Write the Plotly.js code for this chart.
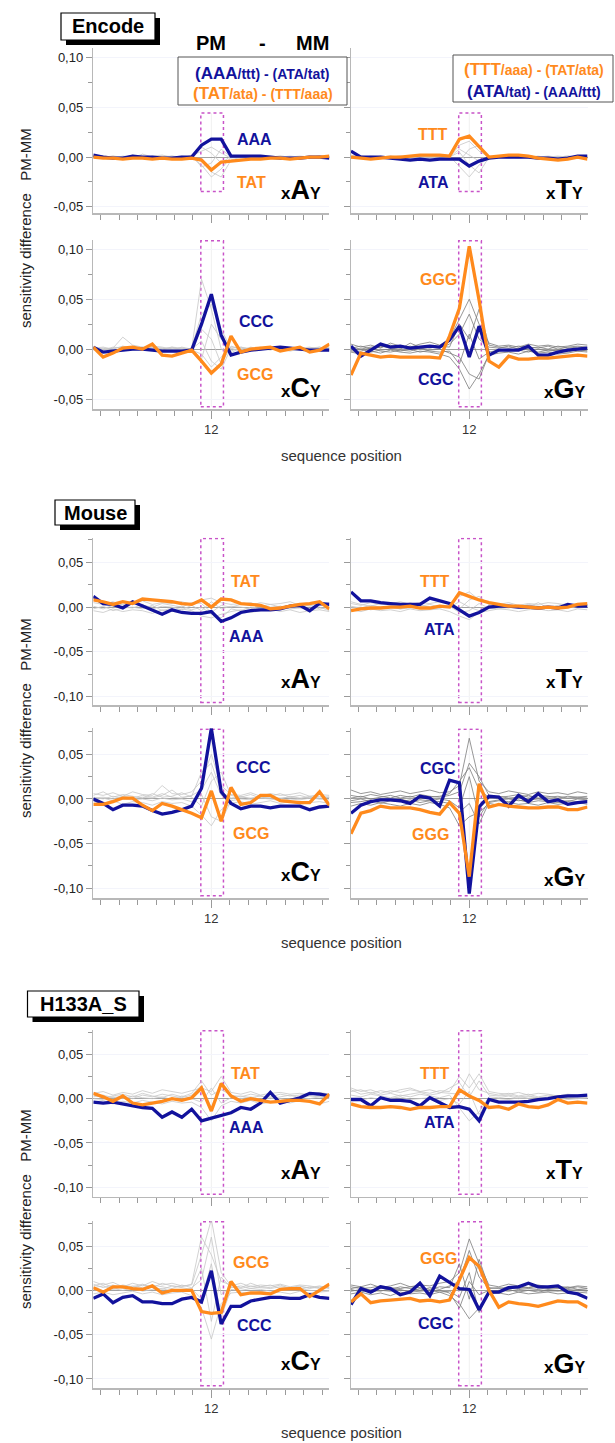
<!DOCTYPE html>
<html><head><meta charset="utf-8">
<script src="https://cdn.plot.ly/plotly-3.0.1.min.js"></script>
<style>html,body{margin:0;padding:0;background:#fff}</style>
</head><body><div id="chart" style="width:615px;height:1443px"></div>
<script>
// ---------------- DATA ----------------
const positions = [0,1,2,3,4,5,6,7,8,9,10,11,12,13,14,15,16,17,18,19,20,21,22,23,24];
const xTickValues = [12];
const xTickLabels = ['12'];
const yTickValues = [-0.10,-0.05,0,0.05,0.10];
const yTickLabels = ['-0,10','-0,05','0,00','0,05','0,10'];
const sections = ['Encode','Mouse','H133A_S'];

// Encode
const encA_blue   = [0.002,0.000,-0.001,-0.001,0.001,0.000,0.000,-0.001,-0.001,0.000,0.000,0.012,0.018,0.018,0.001,0.001,0.001,0.001,0.000,-0.001,-0.001,-0.001,0.000,0.000,-0.001];
const encA_orange = [0.000,-0.001,-0.001,-0.002,-0.001,-0.001,-0.002,-0.001,-0.002,-0.002,-0.001,-0.003,-0.013,-0.005,-0.004,-0.003,-0.002,-0.002,-0.001,-0.001,-0.002,-0.001,0.000,0.000,0.001];
const encA_gray = [
 [0.001,0.000,-0.001,0.001,0.000,-0.001,0.001,0.002,0.000,-0.001,0.000,-0.008,-0.020,-0.012,0.000,0.001,0.000,-0.001,0.000,0.001,0.000,0.000,-0.001,0.000,0.001],
 [-0.001,0.001,0.000,-0.001,0.002,0.000,-0.001,0.000,0.001,0.000,0.001,0.006,0.010,0.004,-0.001,0.000,0.001,0.000,-0.001,0.000,0.001,0.000,0.000,0.001,0.000],
 [0.000,-0.001,0.001,0.000,-0.001,0.003,0.000,-0.001,0.000,0.001,-0.001,-0.004,-0.015,-0.020,-0.003,0.000,-0.001,0.001,0.000,-0.001,0.000,0.001,0.000,-0.001,0.000],
 [0.002,0.001,0.000,0.000,0.001,-0.001,0.000,0.001,-0.001,0.000,0.000,0.010,0.004,-0.006,0.001,-0.001,0.000,0.000,0.001,0.000,-0.001,0.000,0.001,0.000,-0.001],
 [0.000,0.000,0.001,-0.001,0.000,0.001,-0.001,0.000,0.001,-0.001,0.002,-0.010,-0.006,0.008,0.000,0.001,-0.001,0.000,0.000,0.001,0.000,-0.001,0.000,0.001,0.000]];
const encT_blue   = [0.006,0.000,0.000,0.000,-0.001,-0.002,-0.003,-0.002,-0.003,-0.002,-0.002,-0.002,-0.009,-0.004,-0.001,0.000,0.000,0.000,0.000,-0.001,-0.001,-0.002,-0.001,0.001,0.001];
const encT_orange = [0.000,-0.001,-0.002,-0.001,0.000,0.000,0.001,0.002,0.002,0.002,0.001,0.018,0.021,0.010,0.000,0.001,0.002,0.002,0.001,-0.001,-0.002,-0.003,-0.002,0.000,-0.002];
const encT_gray = [
 [0.002,0.000,-0.001,0.001,0.000,0.001,-0.001,0.000,0.001,0.000,0.000,0.012,0.016,0.006,0.000,0.001,0.000,-0.001,0.000,0.000,0.001,0.000,-0.001,0.000,0.001],
 [-0.001,0.001,0.000,0.000,-0.001,0.000,0.001,0.001,0.000,-0.001,0.001,-0.010,-0.020,-0.008,0.001,0.000,-0.001,0.000,0.001,0.000,0.000,-0.001,0.000,0.001,0.000],
 [0.000,-0.001,0.001,0.000,0.001,-0.001,0.000,0.000,-0.001,0.001,0.000,0.005,-0.008,-0.016,0.000,-0.001,0.001,0.000,0.000,0.001,-0.001,0.000,0.001,0.000,-0.001],
 [0.001,0.000,0.000,-0.001,0.000,0.001,0.000,-0.001,0.001,0.000,-0.001,-0.004,0.008,0.012,-0.001,0.000,0.000,0.001,-0.001,0.000,0.000,0.001,0.000,-0.001,0.000],
 [0.000,0.001,-0.001,0.000,0.001,0.000,-0.001,0.000,0.000,0.001,0.000,0.008,0.002,-0.004,0.000,0.001,0.000,0.000,0.001,-0.001,0.000,0.000,0.001,0.000,0.000]];
const encC_blue   = [0.002,-0.003,-0.002,-0.001,0.000,0.000,-0.001,-0.002,-0.002,-0.002,-0.001,0.025,0.055,0.014,-0.006,-0.003,-0.001,0.000,0.001,0.002,0.001,0.000,-0.001,-0.001,-0.001];
const encC_orange = [0.002,-0.008,-0.004,0.001,0.002,0.000,0.005,-0.006,-0.007,-0.004,-0.001,-0.012,-0.024,-0.015,0.013,-0.003,0.000,0.001,0.002,-0.002,0.000,0.002,-0.003,-0.001,0.005];
const encC_gray = [
 [0.002,-0.001,0.001,0.012,0.004,0.002,0.001,0.000,0.002,0.001,0.000,0.070,0.040,0.000,-0.004,0.002,0.000,0.001,-0.001,0.002,0.000,0.001,0.002,0.000,0.001],
 [0.000,0.001,-0.002,0.000,0.001,-0.001,0.003,0.002,0.000,-0.001,0.001,0.035,0.045,0.020,0.000,-0.001,0.002,0.000,0.001,0.000,-0.002,0.000,0.001,0.002,0.000],
 [-0.001,0.000,0.001,0.002,-0.001,0.000,0.001,-0.002,0.001,0.000,-0.001,-0.005,-0.018,-0.008,0.002,0.001,-0.001,0.001,0.000,-0.001,0.001,0.002,0.000,-0.001,0.001],
 [0.001,0.002,0.000,-0.001,0.002,0.001,0.000,0.001,-0.001,0.002,0.000,0.020,0.010,-0.015,0.003,0.000,0.001,-0.001,0.002,0.001,0.000,-0.001,0.001,0.000,0.002],
 [0.000,-0.001,0.002,0.001,0.000,0.002,-0.001,0.000,0.002,-0.001,0.001,-0.010,0.025,0.010,-0.002,0.002,0.000,0.002,0.000,0.001,0.002,0.000,-0.001,0.001,0.000],
 [0.001,0.000,0.000,0.003,0.001,0.000,0.002,0.001,0.000,0.001,0.000,0.008,-0.012,-0.020,0.001,-0.002,0.001,0.000,0.001,0.000,0.001,0.001,0.000,0.002,-0.001]];
const encG_blue   = [0.003,-0.007,-0.001,0.005,0.002,0.003,0.001,0.002,0.003,0.002,0.009,0.023,-0.008,0.023,-0.006,-0.001,-0.001,-0.001,0.003,-0.006,-0.006,-0.003,-0.001,0.000,0.001];
const encG_orange = [-0.026,-0.004,-0.006,-0.008,-0.007,-0.008,-0.008,-0.008,-0.008,-0.009,0.013,0.041,0.103,0.049,-0.012,-0.018,-0.007,-0.010,-0.010,-0.009,-0.009,-0.008,-0.007,-0.006,-0.007];
const encG_gray = [
 [0.005,0.002,0.004,0.001,0.006,0.003,0.002,0.005,0.007,0.004,0.010,0.030,0.050,0.025,0.006,0.003,0.004,0.002,0.005,0.003,0.004,0.002,0.003,0.005,0.004],
 [-0.003,-0.005,-0.002,-0.004,-0.001,-0.003,-0.004,-0.002,-0.003,-0.005,-0.008,-0.020,-0.040,-0.025,-0.006,-0.004,-0.003,-0.005,-0.002,-0.004,-0.003,-0.005,-0.004,-0.002,-0.003],
 [0.001,0.003,0.000,0.002,0.004,0.001,0.003,0.000,0.002,0.001,0.005,0.015,0.035,0.010,0.002,0.001,0.003,0.000,0.001,0.002,0.000,0.003,0.001,0.002,0.001],
 [-0.001,0.000,-0.003,-0.001,0.000,-0.002,0.000,-0.003,-0.001,0.000,-0.004,-0.008,-0.025,-0.030,-0.005,-0.002,0.000,-0.001,-0.003,0.000,-0.002,-0.001,0.000,-0.002,-0.001],
 [0.002,0.000,0.002,0.003,0.001,0.000,0.006,0.002,0.001,0.003,0.002,0.025,0.010,0.040,0.004,0.002,0.001,0.003,0.002,0.001,0.003,0.000,0.002,0.003,0.002],
 [-0.002,-0.002,0.001,-0.002,-0.003,-0.001,-0.002,0.001,-0.002,-0.003,-0.002,-0.015,0.015,-0.010,-0.003,-0.001,-0.002,0.001,-0.001,-0.003,-0.001,-0.002,-0.003,0.000,-0.002]];

// Mouse
const mouA_blue   = [0.012,0.004,0.003,-0.001,0.006,0.001,-0.003,-0.008,-0.003,-0.006,-0.007,-0.007,-0.005,-0.016,-0.012,-0.006,-0.004,-0.003,-0.003,-0.002,0.001,0.002,-0.004,0.004,0.003];
const mouA_orange = [0.008,0.006,0.003,0.006,0.004,0.009,0.008,0.007,0.006,0.004,0.003,0.008,0.000,0.009,0.008,0.004,0.003,0.002,-0.002,-0.001,0.001,0.003,0.004,0.006,-0.002];
const mouA_gray = [
 [0.005,0.003,0.006,0.002,0.004,0.007,0.003,0.005,0.004,0.006,0.003,0.008,0.010,0.005,0.003,0.004,0.002,0.005,0.003,0.004,0.006,0.002,0.004,0.003,0.005],
 [-0.004,-0.006,-0.002,-0.005,-0.003,-0.004,-0.007,-0.003,-0.005,-0.002,-0.004,-0.010,-0.012,-0.008,-0.005,-0.003,-0.006,-0.004,-0.002,-0.005,-0.003,-0.006,-0.004,-0.003,-0.005],
 [0.001,-0.002,0.002,0.000,-0.001,0.003,-0.002,0.001,0.000,-0.003,0.002,-0.004,0.006,-0.002,0.001,0.000,-0.002,0.002,0.000,0.001,-0.001,0.000,0.002,-0.002,0.000],
 [0.008,0.004,0.001,0.003,0.006,0.002,0.000,0.004,0.002,0.000,0.005,0.004,-0.006,0.002,0.000,0.003,0.005,0.001,0.003,0.000,0.002,0.004,0.001,0.005,0.002],
 [-0.002,0.001,-0.004,-0.001,0.000,-0.002,0.002,-0.004,-0.001,0.001,-0.003,0.000,-0.008,-0.012,-0.002,-0.004,0.000,-0.002,-0.003,0.001,-0.002,-0.001,-0.003,0.000,-0.004]];
const mouT_blue   = [0.017,0.007,0.007,0.005,0.004,0.003,0.003,0.003,0.010,0.007,0.004,-0.003,-0.010,-0.006,0.000,0.001,0.001,0.000,0.000,-0.001,0.000,-0.001,0.003,0.001,0.001];
const mouT_orange = [-0.004,-0.002,-0.001,-0.001,0.000,0.000,0.001,-0.001,-0.001,0.001,0.000,0.016,0.012,0.008,0.005,0.003,0.001,0.001,0.000,-0.001,0.000,-0.001,0.000,0.003,0.004];
const mouT_gray = [
 [0.004,0.002,0.005,0.003,0.004,0.006,0.003,0.005,0.004,0.006,0.004,0.012,0.017,0.008,0.004,0.003,0.005,0.002,0.004,0.003,0.005,0.004,0.002,0.004,0.003],
 [-0.003,-0.005,-0.002,-0.004,-0.003,-0.005,-0.002,-0.004,-0.003,-0.002,-0.005,-0.010,-0.014,-0.006,-0.004,-0.002,-0.003,-0.005,-0.003,-0.002,-0.004,-0.003,-0.005,-0.002,-0.003],
 [0.001,-0.001,0.002,0.000,0.001,-0.002,0.001,0.002,0.000,0.001,0.000,0.006,0.000,-0.004,0.002,0.000,-0.001,0.002,0.000,0.005,-0.001,0.001,0.000,0.002,0.001],
 [0.006,0.003,0.001,0.004,0.002,0.000,0.005,0.001,0.003,0.000,0.002,-0.002,0.008,0.012,0.003,0.001,0.002,0.000,0.003,0.001,0.000,0.002,0.004,0.001,0.002],
 [-0.001,0.000,-0.003,-0.001,0.000,-0.002,-0.001,0.000,-0.002,-0.001,0.001,-0.006,-0.004,0.004,-0.001,-0.002,0.000,-0.001,-0.002,0.000,-0.001,-0.002,0.000,-0.001,0.000]];
const mouC_blue   = [0.000,-0.005,-0.012,-0.007,-0.007,-0.008,-0.013,-0.017,-0.015,-0.012,-0.008,0.012,0.079,0.008,-0.005,-0.011,-0.008,-0.008,-0.010,-0.008,-0.008,-0.008,-0.012,-0.009,-0.008];
const mouC_orange = [-0.006,-0.006,-0.003,0.001,0.001,-0.007,-0.013,-0.005,-0.008,-0.012,-0.016,-0.021,0.009,-0.025,0.013,-0.006,-0.004,0.004,0.004,-0.002,-0.003,-0.004,-0.004,0.008,-0.007];
const mouC_gray = [
 [0.006,0.004,0.007,0.003,0.008,0.005,0.004,0.015,0.006,0.005,0.008,0.020,0.050,0.015,0.005,0.004,0.007,0.003,0.006,0.004,0.005,0.007,0.003,0.005,0.004],
 [-0.003,-0.005,-0.002,-0.006,-0.003,-0.004,-0.007,-0.003,-0.005,-0.004,-0.008,-0.018,-0.030,-0.012,-0.005,-0.003,-0.006,-0.004,-0.002,-0.005,-0.003,-0.006,-0.004,-0.003,-0.005],
 [0.002,0.000,0.003,0.001,0.000,0.002,0.001,0.004,0.010,0.002,0.003,0.030,0.040,0.008,0.001,0.003,0.000,0.002,0.001,0.000,0.003,0.001,0.002,0.000,0.002],
 [0.004,0.008,0.002,0.005,0.003,0.001,0.006,0.002,0.003,0.007,0.002,-0.008,0.020,0.030,0.004,0.002,0.005,0.001,0.003,0.006,0.002,0.004,0.001,0.003,0.002],
 [-0.001,0.001,-0.002,0.000,-0.001,0.000,-0.002,0.001,-0.001,0.000,-0.003,0.005,-0.020,-0.025,-0.002,0.000,-0.001,0.001,0.000,-0.002,0.000,-0.001,0.001,0.000,-0.001],
 [0.001,0.002,0.000,0.003,0.001,0.004,0.002,0.006,0.002,0.001,0.004,0.010,0.030,0.004,0.000,0.002,0.001,0.003,0.002,0.001,0.002,0.000,0.003,0.001,0.002]];
const mouG_blue   = [-0.016,-0.007,-0.003,-0.001,-0.001,-0.002,-0.005,0.003,0.001,-0.008,0.021,0.018,-0.106,-0.009,0.003,0.002,-0.008,0.004,-0.003,0.006,-0.003,-0.001,-0.006,-0.004,-0.003];
const mouG_orange = [-0.039,-0.016,-0.013,-0.008,-0.010,-0.010,-0.010,-0.012,-0.015,-0.017,-0.004,-0.016,-0.087,0.017,-0.009,-0.006,-0.008,-0.009,-0.010,-0.010,-0.009,-0.009,-0.012,-0.012,-0.009];
const mouG_gray = [
 [0.010,0.006,0.008,0.005,0.007,0.009,0.006,0.008,0.010,0.007,0.008,0.015,0.068,0.020,0.008,0.006,0.009,0.007,0.005,0.008,0.006,0.007,0.005,0.008,0.006],
 [-0.008,-0.005,-0.007,-0.004,-0.006,-0.008,-0.005,-0.007,-0.004,-0.006,-0.010,-0.030,-0.020,-0.015,-0.005,-0.007,-0.004,-0.006,-0.005,-0.007,-0.004,-0.006,-0.005,-0.004,-0.006],
 [0.004,0.002,0.005,0.003,0.001,0.004,0.002,0.005,0.003,0.002,0.004,0.008,0.040,0.025,0.004,0.002,0.003,0.005,0.002,0.004,0.003,0.001,0.003,0.002,0.003],
 [-0.002,0.000,-0.003,-0.001,-0.002,0.000,-0.003,-0.001,-0.002,0.000,-0.002,-0.010,0.025,-0.020,-0.003,-0.001,0.000,-0.002,-0.001,0.000,-0.002,-0.001,-0.003,0.000,-0.001],
 [0.001,0.003,0.000,0.002,0.004,0.001,0.003,0.000,0.002,0.003,0.006,0.020,0.035,0.010,0.002,0.003,0.001,0.002,0.004,0.001,0.002,0.003,0.001,0.002,0.001],
 [-0.004,-0.003,-0.001,-0.005,-0.002,-0.003,-0.001,-0.004,-0.002,-0.003,-0.005,-0.015,-0.005,-0.028,-0.004,-0.002,-0.003,-0.001,-0.004,-0.002,-0.003,-0.004,-0.002,-0.003,-0.002]];

// H133A_S
const h1A_blue   = [-0.004,-0.005,-0.004,-0.006,-0.008,-0.010,-0.011,-0.021,-0.015,-0.021,-0.012,-0.025,-0.022,-0.019,-0.016,-0.010,-0.012,-0.005,0.007,-0.005,-0.002,0.001,0.006,0.005,0.003];
const h1A_orange = [0.006,0.002,-0.003,0.003,-0.005,-0.007,-0.005,-0.003,0.000,-0.002,0.001,0.012,-0.014,0.017,0.003,-0.003,0.000,-0.002,-0.004,-0.003,-0.002,-0.002,-0.003,-0.006,0.005];
const h1A_gray = [
 [0.006,0.008,0.004,0.007,0.005,0.009,0.006,0.010,0.008,0.006,0.009,0.012,0.008,0.025,0.007,0.005,0.008,0.004,0.006,0.007,0.005,0.006,0.004,0.007,0.005],
 [-0.004,-0.002,-0.006,-0.003,-0.005,-0.002,-0.004,-0.006,-0.003,-0.005,-0.004,-0.010,-0.025,-0.008,-0.003,-0.005,-0.002,-0.006,-0.004,-0.003,-0.005,-0.002,-0.004,-0.006,-0.003],
 [0.002,0.004,0.001,0.003,0.000,0.004,0.002,0.005,0.003,0.001,0.004,0.015,-0.010,0.018,0.002,0.003,0.001,0.003,0.000,0.002,0.004,0.001,0.003,0.002,0.001],
 [0.000,-0.001,0.002,0.000,0.003,0.001,0.000,0.002,-0.001,0.003,0.000,-0.004,0.012,-0.005,0.001,0.000,0.002,-0.001,0.001,0.000,-0.002,0.001,0.000,0.002,0.000],
 [0.004,0.001,0.003,0.005,0.002,0.006,0.003,0.001,0.005,0.002,0.006,0.020,0.004,0.010,0.004,0.002,0.005,0.003,0.002,0.005,0.003,0.004,0.006,0.003,0.004]];
const h1T_blue   = [-0.001,-0.001,-0.008,0.001,-0.002,-0.002,-0.003,-0.008,0.001,-0.004,-0.010,-0.009,-0.012,-0.025,-0.001,-0.004,-0.004,-0.004,-0.003,-0.001,0.000,0.002,0.003,0.003,0.004];
const h1T_orange = [-0.006,-0.009,-0.010,-0.010,-0.009,-0.010,-0.012,-0.010,-0.010,-0.009,-0.009,0.010,0.003,-0.002,-0.010,-0.009,-0.012,-0.006,-0.009,-0.010,-0.007,-0.001,-0.005,-0.004,-0.005];
const h1T_gray = [
 [0.012,0.008,0.010,0.006,0.009,0.007,0.010,0.008,0.006,0.009,0.008,0.025,0.012,0.028,0.008,0.006,0.005,0.007,0.004,0.006,0.005,0.003,0.005,0.004,0.003],
 [0.004,0.002,0.005,0.003,0.001,0.004,0.002,0.005,0.003,0.001,0.004,-0.010,-0.025,-0.015,0.002,0.001,0.003,0.000,0.002,0.001,0.000,0.002,0.001,0.000,0.001],
 [0.008,0.010,0.006,0.009,0.007,0.010,0.012,0.008,0.010,0.007,0.006,0.005,0.028,0.010,0.006,0.004,0.006,0.003,0.005,0.002,0.004,0.003,0.002,0.004,0.002],
 [0.000,-0.002,0.001,-0.001,0.000,0.002,-0.001,0.000,0.001,-0.002,0.000,-0.006,0.008,-0.018,-0.002,0.000,-0.001,0.001,0.000,-0.001,0.000,0.001,-0.001,0.000,0.001],
 [0.010,0.005,0.007,0.004,0.006,0.003,0.005,0.007,0.004,0.006,0.012,0.018,0.002,0.020,0.004,0.003,0.004,0.002,0.003,0.001,0.002,0.003,0.001,0.002,0.001]];
const h1C_blue   = [-0.009,-0.004,-0.014,-0.008,-0.006,-0.013,-0.013,-0.015,-0.015,-0.010,-0.008,-0.013,0.022,-0.038,-0.018,-0.018,-0.012,-0.010,-0.008,-0.008,-0.009,-0.009,-0.005,-0.008,-0.009];
const h1C_orange = [0.003,-0.002,0.004,0.004,0.002,0.001,0.005,-0.003,0.000,0.000,0.000,-0.024,-0.026,-0.025,0.010,-0.005,-0.003,-0.003,-0.004,0.001,0.002,0.002,-0.007,0.000,0.007];
const h1C_gray = [
 [0.010,0.006,0.009,0.004,0.008,0.005,0.010,0.006,0.008,0.005,0.006,0.040,0.080,0.020,0.005,0.008,0.004,0.006,0.005,0.007,0.004,0.006,0.005,0.003,0.005],
 [-0.004,-0.002,-0.005,-0.003,-0.001,-0.004,-0.002,-0.005,-0.003,-0.002,-0.006,-0.020,-0.055,-0.015,-0.003,-0.002,-0.004,-0.001,-0.003,-0.002,-0.004,-0.001,-0.003,-0.002,-0.001],
 [0.005,0.008,0.003,0.006,0.004,0.007,0.003,0.008,0.005,0.004,0.007,0.060,0.040,0.010,0.006,0.003,0.008,0.004,0.003,0.006,0.002,0.004,0.003,0.005,0.002],
 [0.001,-0.001,0.002,0.000,0.003,-0.001,0.001,0.002,-0.001,0.000,0.002,-0.010,0.030,-0.030,0.001,0.000,0.002,0.001,-0.001,0.000,0.001,0.002,0.000,-0.001,0.000],
 [0.003,0.005,0.001,0.004,0.002,0.006,0.004,0.001,0.005,0.003,0.001,0.025,-0.035,0.015,0.003,0.005,0.002,0.004,0.006,0.002,0.003,0.001,0.004,0.002,0.003],
 [0.007,0.003,0.006,0.002,0.005,0.003,0.006,0.004,0.002,0.006,0.003,0.012,0.060,-0.005,0.004,0.002,0.005,0.003,0.002,0.004,0.003,0.005,0.002,0.004,0.003]];
const h1G_blue   = [-0.016,0.002,-0.002,0.004,0.002,-0.005,-0.002,0.008,-0.006,0.016,0.009,0.002,0.001,-0.022,-0.002,-0.002,0.003,0.004,0.008,0.004,0.004,0.005,-0.002,-0.004,-0.009];
const h1G_orange = [-0.013,-0.004,-0.014,-0.012,-0.011,-0.010,-0.009,-0.012,-0.011,-0.013,-0.011,0.012,0.037,0.027,0.000,-0.019,-0.013,-0.015,-0.016,-0.018,-0.015,-0.012,-0.013,-0.013,-0.019];
const h1G_gray = [
 [0.006,0.004,0.007,0.003,0.005,0.008,0.004,0.006,0.005,0.008,0.010,0.020,0.058,0.030,0.006,0.004,0.007,0.005,0.003,0.006,0.004,0.005,0.003,0.005,0.004],
 [-0.004,-0.002,-0.005,-0.003,-0.006,-0.002,-0.004,-0.003,-0.005,-0.002,-0.006,-0.015,-0.032,-0.020,-0.004,-0.003,-0.005,-0.002,-0.004,-0.003,-0.002,-0.004,-0.003,-0.002,-0.003],
 [0.002,0.004,0.000,0.003,0.001,0.004,0.002,0.000,0.003,0.001,0.005,0.010,0.045,0.015,0.002,0.003,0.001,0.004,0.002,0.003,0.001,0.002,0.004,0.001,0.002],
 [-0.001,0.001,-0.002,0.000,-0.001,0.001,-0.002,-0.001,0.000,-0.002,-0.001,-0.008,0.020,-0.025,-0.002,0.000,-0.001,0.001,0.000,-0.002,0.000,-0.001,0.001,0.000,-0.001],
 [0.004,0.002,0.003,0.005,0.003,0.002,0.004,0.003,0.001,0.004,0.003,0.030,-0.010,0.035,0.003,0.002,0.004,0.002,0.003,0.005,0.002,0.003,0.002,0.004,0.002],
 [0.001,-0.002,0.001,-0.001,0.002,0.000,-0.001,0.002,-0.001,0.000,-0.003,-0.020,0.010,-0.005,0.000,-0.001,0.001,-0.002,0.000,0.001,-0.001,0.000,-0.002,0.001,0.000]];

// ---------------- LAYOUT ----------------
const W = 615, H = 1443;
const BLUE = '#12129c', ORANGE = '#ff8a1c';
const FONT = 'Liberation Sans, Arial, sans-serif';
const NARROW = 'Liberation Sans Narrow, Arial Narrow, Liberation Sans, Arial, sans-serif';
const px = x => x / W, py = y => 1 - y / H;

const colPx = [[93.3, 329.4], [351, 587.5]];
const rowPx = [[48.3, 213.3], [240, 409.3], [537.7, 705], [728.3, 898.3], [1030, 1196.7], [1221, 1388.3]];
const rowRange = [[-0.0566, 0.1095], [-0.0603, 0.1093], [-0.1093, 0.0775], [-0.1112, 0.0791], [-0.1106, 0.0774], [-0.1105, 0.0782]];

const panels = [
  {blue: encA_blue, orange: encA_orange, gray: encA_gray, dark: false, big: 'A', bl: 'AAA', ol: 'TAT'},
  {blue: encT_blue, orange: encT_orange, gray: encT_gray, dark: false, big: 'T', bl: 'ATA', ol: 'TTT'},
  {blue: encC_blue, orange: encC_orange, gray: encC_gray, dark: false, big: 'C', bl: 'CCC', ol: 'GCG'},
  {blue: encG_blue, orange: encG_orange, gray: encG_gray, dark: true,  big: 'G', bl: 'CGC', ol: 'GGG'},
  {blue: mouA_blue, orange: mouA_orange, gray: mouA_gray, dark: false, big: 'A', bl: 'AAA', ol: 'TAT'},
  {blue: mouT_blue, orange: mouT_orange, gray: mouT_gray, dark: false, big: 'T', bl: 'ATA', ol: 'TTT'},
  {blue: mouC_blue, orange: mouC_orange, gray: mouC_gray, dark: false, big: 'C', bl: 'CCC', ol: 'GCG'},
  {blue: mouG_blue, orange: mouG_orange, gray: mouG_gray, dark: true,  big: 'G', bl: 'CGC', ol: 'GGG'},
  {blue: h1A_blue, orange: h1A_orange, gray: h1A_gray, dark: false, big: 'A', bl: 'AAA', ol: 'TAT'},
  {blue: h1T_blue, orange: h1T_orange, gray: h1T_gray, dark: false, big: 'T', bl: 'ATA', ol: 'TTT'},
  {blue: h1C_blue, orange: h1C_orange, gray: h1C_gray, dark: false, big: 'C', bl: 'CCC', ol: 'GCG'},
  {blue: h1G_blue, orange: h1G_orange, gray: h1G_gray, dark: true,  big: 'G', bl: 'CGC', ol: 'GGG'}
];

const labelPos = [
  {b: [235, 139], o: [235, 182], g: [323, 190]},
  {b: [416, 183], o: [416, 135], g: [585, 190]},
  {b: [237, 322], o: [235, 375], g: [323, 388]},
  {b: [416, 380], o: [418, 280], g: [587, 389]},
  {b: [227, 636], o: [229, 581], g: [323, 679]},
  {b: [422, 629], o: [418, 581], g: [585, 679]},
  {b: [234, 767], o: [231, 833], g: [323, 872]},
  {b: [418, 768], o: [410, 834], g: [587, 877]},
  {b: [227, 1127], o: [229, 1073], g: [323, 1170]},
  {b: [422, 1122], o: [418, 1073], g: [585, 1170]},
  {b: [235, 1325], o: [231, 1262], g: [323, 1361]},
  {b: [416, 1323], o: [418, 1258], g: [587, 1364]}
];

const step = 1.875;
const xMinor = [];
for (let k = -6; k <= 6; k++) if (k !== 0) xMinor.push(12 + k * step);
const yMinor = [-0.075, -0.025, 0.025, 0.075];

const traces = [];
const layout = {
  width: W, height: H, margin: {l: 0, r: 0, t: 0, b: 0},
  paper_bgcolor: '#fff', plot_bgcolor: 'rgba(0,0,0,0)',
  showlegend: false, font: {family: FONT, color: '#222'},
  shapes: [], annotations: []
};

panels.forEach((p, i) => {
  const r = Math.floor(i / 2), c = i % 2;
  const n = i + 1;
  const xid = n === 1 ? 'x' : 'x' + n, yid = n === 1 ? 'y' : 'y' + n;
  const xk = n === 1 ? 'xaxis' : 'xaxis' + n, yk = n === 1 ? 'yaxis' : 'yaxis' + n;
  layout[xk] = {
    domain: [px(colPx[c][0]), px(colPx[c][1])], anchor: yid, range: [0, 24],
    showline: true, linecolor: '#b8b8b8', linewidth: 1.5,
    ticks: 'outside', ticklen: 8, tickwidth: 1, tickcolor: '#9a9a9a',
    tickmode: 'array', tickvals: xTickValues, ticktext: xTickLabels,
    showticklabels: r % 2 === 1, tickfont: {size: 13, color: '#333', family: FONT},
    showgrid: false, zeroline: false, fixedrange: true,
    minor: {tickmode: 'array', tickvals: xMinor, ticks: 'outside', ticklen: 5, tickwidth: 1, tickcolor: '#9a9a9a', showgrid: false}
  };
  layout[yk] = {
    domain: [py(rowPx[r][1]), py(rowPx[r][0])], anchor: xid, range: rowRange[r],
    showline: true, linecolor: '#b8b8b8', linewidth: 1.5,
    ticks: 'outside', ticklen: 6, tickwidth: 1, tickcolor: '#9a9a9a',
    tickmode: 'array', tickvals: yTickValues, ticktext: yTickLabels,
    showticklabels: c === 0, tickfont: {size: 13, color: '#222', family: FONT},
    showgrid: true, gridcolor: '#f3f4fb', gridwidth: 1,
    zeroline: true, zerolinecolor: '#a2a2a2', zerolinewidth: 1, fixedrange: true,
    minor: {tickmode: 'array', tickvals: yMinor, ticks: 'outside', ticklen: 4, tickwidth: 1, tickcolor: '#9a9a9a', showgrid: false}
  };
  p.gray.forEach(g => traces.push({
    x: positions, y: g, xaxis: xid, yaxis: yid, type: 'scatter', mode: 'lines',
    line: {color: p.dark ? '#7c7c7c' : '#c6c6c6', width: 0.8}, hoverinfo: 'skip'
  }));
  traces.push({x: positions, y: p.blue, xaxis: xid, yaxis: yid, type: 'scatter', mode: 'lines',
    line: {color: BLUE, width: 3.3}});
  traces.push({x: positions, y: p.orange, xaxis: xid, yaxis: yid, type: 'scatter', mode: 'lines',
    line: {color: ORANGE, width: 3.3}});

  // dotted highlight box around position 12
  const box = {type: 'rect', xref: xid, x0: 10.93, x1: 13.23,
    line: {color: '#c853c8', width: 1.5, dash: 'dot'}, fillcolor: 'rgba(0,0,0,0)', layer: 'below'};
  const vline = {type: 'line', xref: xid, x0: 12, x1: 12,
    line: {color: '#f0f0f0', width: 1}, layer: 'below'};
  if (r === 0) { box.yref = yid; box.y0 = -0.0346; box.y1 = 0.0443; vline.yref = yid; vline.y0 = -0.0346; vline.y1 = 0.0443; }
  else {
    const span = rowRange[r][1] - rowRange[r][0];
    const y0 = rowRange[r][0] + 0.015 * span, y1 = rowRange[r][0] + 0.995 * span;
    box.yref = yid; box.y0 = y0; box.y1 = y1; vline.yref = yid; vline.y0 = y0; vline.y1 = y1;
  }
  layout.shapes.push(vline, box);

  const lp = labelPos[i];
  layout.annotations.push(
    {xref: 'paper', yref: 'paper', x: px(lp.b[0]), y: py(lp.b[1]), xanchor: 'left', yanchor: 'middle', showarrow: false,
     text: '<b>' + p.bl + '</b>', font: {size: 16, color: BLUE, family: FONT}},
    {xref: 'paper', yref: 'paper', x: px(lp.o[0]), y: py(lp.o[1]), xanchor: 'left', yanchor: 'middle', showarrow: false,
     text: '<b>' + p.ol + '</b>', font: {size: 16, color: ORANGE, family: FONT}},
    {xref: 'paper', yref: 'paper', x: px(lp.g[0]), y: py(lp.g[1]), xanchor: 'right', yanchor: 'middle', showarrow: false,
     text: '<b><span style="font-size:17px">x</span><span style="font-size:27px">' + p.big + '</span><span style="font-size:16px">Y</span></b>',
     font: {size: 20, color: '#000', family: NARROW}}
  );
});

// section boxes with shadows
const secBoxes = [
  {x0: 61, x1: 155, y0: 13, y1: 40},
  {x0: 55, x1: 135, y0: 500, y1: 525},
  {x0: 27.5, x1: 139, y0: 991, y1: 1017}
];
secBoxes.forEach((b, k) => {
  layout.shapes.push(
    {type: 'rect', xref: 'paper', yref: 'paper', x0: px(b.x0 + 5), x1: px(b.x1 + 5), y0: py(b.y1 + 5), y1: py(b.y0 + 5),
     fillcolor: '#000', line: {width: 0}, layer: 'above'},
    {type: 'rect', xref: 'paper', yref: 'paper', x0: px(b.x0), x1: px(b.x1), y0: py(b.y1), y1: py(b.y0),
     fillcolor: '#fff', line: {color: '#000', width: 1.2}, layer: 'above'}
  );
  layout.annotations.push({xref: 'paper', yref: 'paper', x: px((b.x0 + b.x1) / 2), y: py((b.y0 + b.y1) / 2),
    xanchor: 'center', yanchor: 'middle', showarrow: false, text: '<b>' + sections[k] + '</b>',
    font: {size: 20, color: '#000', family: FONT}});
});

// legend boxes (Encode)
layout.shapes.push(
  {type: 'rect', xref: 'paper', yref: 'paper', x0: px(178), x1: px(347), y0: py(105), y1: py(57),
   fillcolor: '#fff', line: {color: '#555', width: 1}, layer: 'above'},
  {type: 'rect', xref: 'paper', yref: 'paper', x0: px(453), x1: px(613), y0: py(102), y1: py(55),
   fillcolor: '#fff', line: {color: '#555', width: 1}, layer: 'above'}
);
function pair(big1, small1, rest) {
  return '<b><span style="font-size:17px">(' + big1 + '</span><span style="font-size:14px">/' + small1 + ') - ' + rest + '</span></b>';
}
layout.annotations.push(
  {xref: 'paper', yref: 'paper', x: px(262.5), y: py(73.5), xanchor: 'center', yanchor: 'middle', showarrow: false,
   text: pair('AAA', 'ttt', '(ATA/tat)'), font: {size: 14, color: BLUE, family: FONT}},
  {xref: 'paper', yref: 'paper', x: px(262.5), y: py(94), xanchor: 'center', yanchor: 'middle', showarrow: false,
   text: pair('TAT', 'ata', '(TTT/aaa)'), font: {size: 14, color: ORANGE, family: FONT}},
  {xref: 'paper', yref: 'paper', x: px(534), y: py(70), xanchor: 'center', yanchor: 'middle', showarrow: false,
   text: pair('TTT', 'aaa', '(TAT/ata)'), font: {size: 14, color: ORANGE, family: FONT}},
  {xref: 'paper', yref: 'paper', x: px(534), y: py(91), xanchor: 'center', yanchor: 'middle', showarrow: false,
   text: pair('ATA', 'tat', '(AAA/ttt)'), font: {size: 14, color: BLUE, family: FONT}},
  {xref: 'paper', yref: 'paper', x: px(211.5), y: py(43.5), xanchor: 'center', yanchor: 'middle', showarrow: false,
   text: '<b>PM</b>', font: {size: 20, color: '#000', family: FONT}},
  {xref: 'paper', yref: 'paper', x: px(262), y: py(43.5), xanchor: 'center', yanchor: 'middle', showarrow: false,
   text: '<b>-</b>', font: {size: 20, color: '#000', family: FONT}},
  {xref: 'paper', yref: 'paper', x: px(312.5), y: py(43.5), xanchor: 'center', yanchor: 'middle', showarrow: false,
   text: '<b>MM</b>', font: {size: 20, color: '#000', family: FONT}}
);

// axis titles per section
const secCenters = [[228, 455], [718, 942], [1209, 1432]];
secCenters.forEach(s => {
  layout.annotations.push(
    {xref: 'paper', yref: 'paper', x: px(25), y: py(s[0]), xanchor: 'center', yanchor: 'middle', showarrow: false,
     textangle: -90, text: 'sensitivity difference\u00a0\u00a0 PM-MM', font: {size: 15, color: '#222', family: FONT}},
    {xref: 'paper', yref: 'paper', x: px(341), y: py(s[1]), xanchor: 'center', yanchor: 'middle', showarrow: false,
     text: 'sequence position', font: {size: 15, color: '#333', family: FONT}}
  );
});

Plotly.newPlot('chart', traces, layout, {staticPlot: true, displayModeBar: false});
</script></body></html>
